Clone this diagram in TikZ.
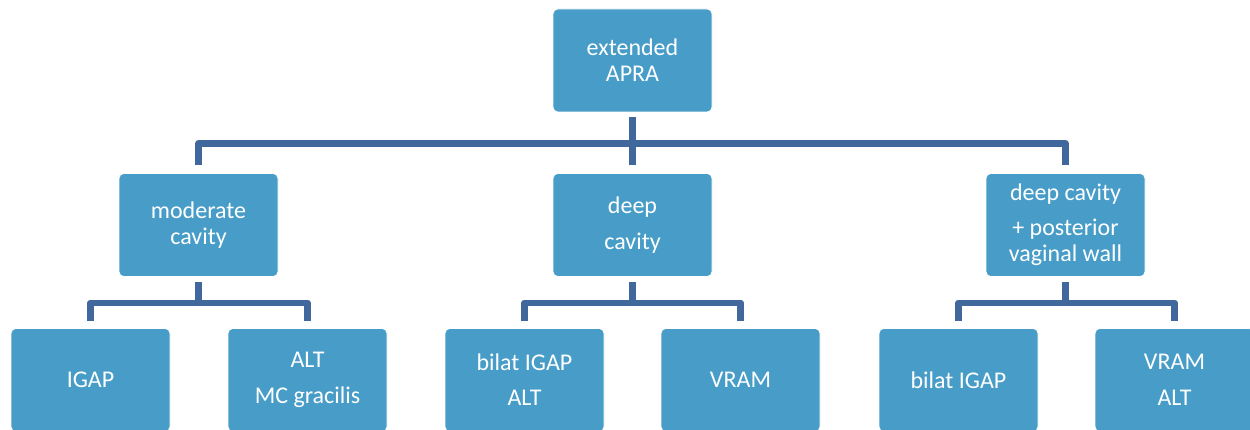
\documentclass[tikz,border=0pt]{standalone}
\usepackage{fontspec}
\setmainfont{Carlito}
\definecolor{boxblue}{RGB}{71,157,200}
\definecolor{linkblue}{RGB}{64,104,157}
\begin{document}
\begin{tikzpicture}[x=1pt,y=-1pt,
    stage/.style={fill=boxblue,draw=white,line width=0.6pt,rounded corners=5pt,
      minimum width=159pt,minimum height=103pt,inner sep=0pt,align=center,
      text=white,font=\fontsize{24}{26}\selectfont},
    link/.style={draw=linkblue,line width=6.5pt,line join=round}]
    \useasboundingbox (0,0) rectangle (1250,430);
    \node[stage] (apra) at (632.5,60.5) {extended\\APRA};
    \node[stage] (moderate) at (198.5,225) {moderate\\cavity};
    \node[stage] (deep) at (632.5,225) {deep\\[10pt]cavity};
    \node[stage] (deepwall) at (1065.5,225) {deep cavity\\[9pt]+ posterior\\vaginal wall};
    \node[stage] (igap) at (90.5,380) {IGAP};
    \node[stage] (altmc) at (307.5,380) {ALT\\[10pt]MC gracilis};
    \node[stage] (bilatalt) at (524.5,380) {bilat IGAP\\[9pt]ALT};
    \node[stage] (vram) at (740.5,380) {VRAM};
    \node[stage] (bilat) at (958.5,380) {bilat IGAP};
    \node[stage] (vramalt) at (1174.5,380) {VRAM\\[10pt]ALT};
    \draw[link] ([yshift=-5pt]apra.south) -- ([yshift=8pt]deep.north);
    \draw[link] ([yshift=8pt]moderate.north) |- ([yshift=-31pt]apra.south) -| ([yshift=8pt]deepwall.north);
    \foreach \parent/\left/\right in {moderate/igap/altmc,deep/bilatalt/vram,deepwall/bilat/vramalt}
    {
      \draw[link] ([yshift=-5pt]\parent.south) -- ([yshift=-26pt]\parent.south);
      \draw[link] ([yshift=7pt]\left.north) |- ([yshift=-26pt]\parent.south) -| ([yshift=7pt]\right.north);
    }
\end{tikzpicture}
\end{document}
